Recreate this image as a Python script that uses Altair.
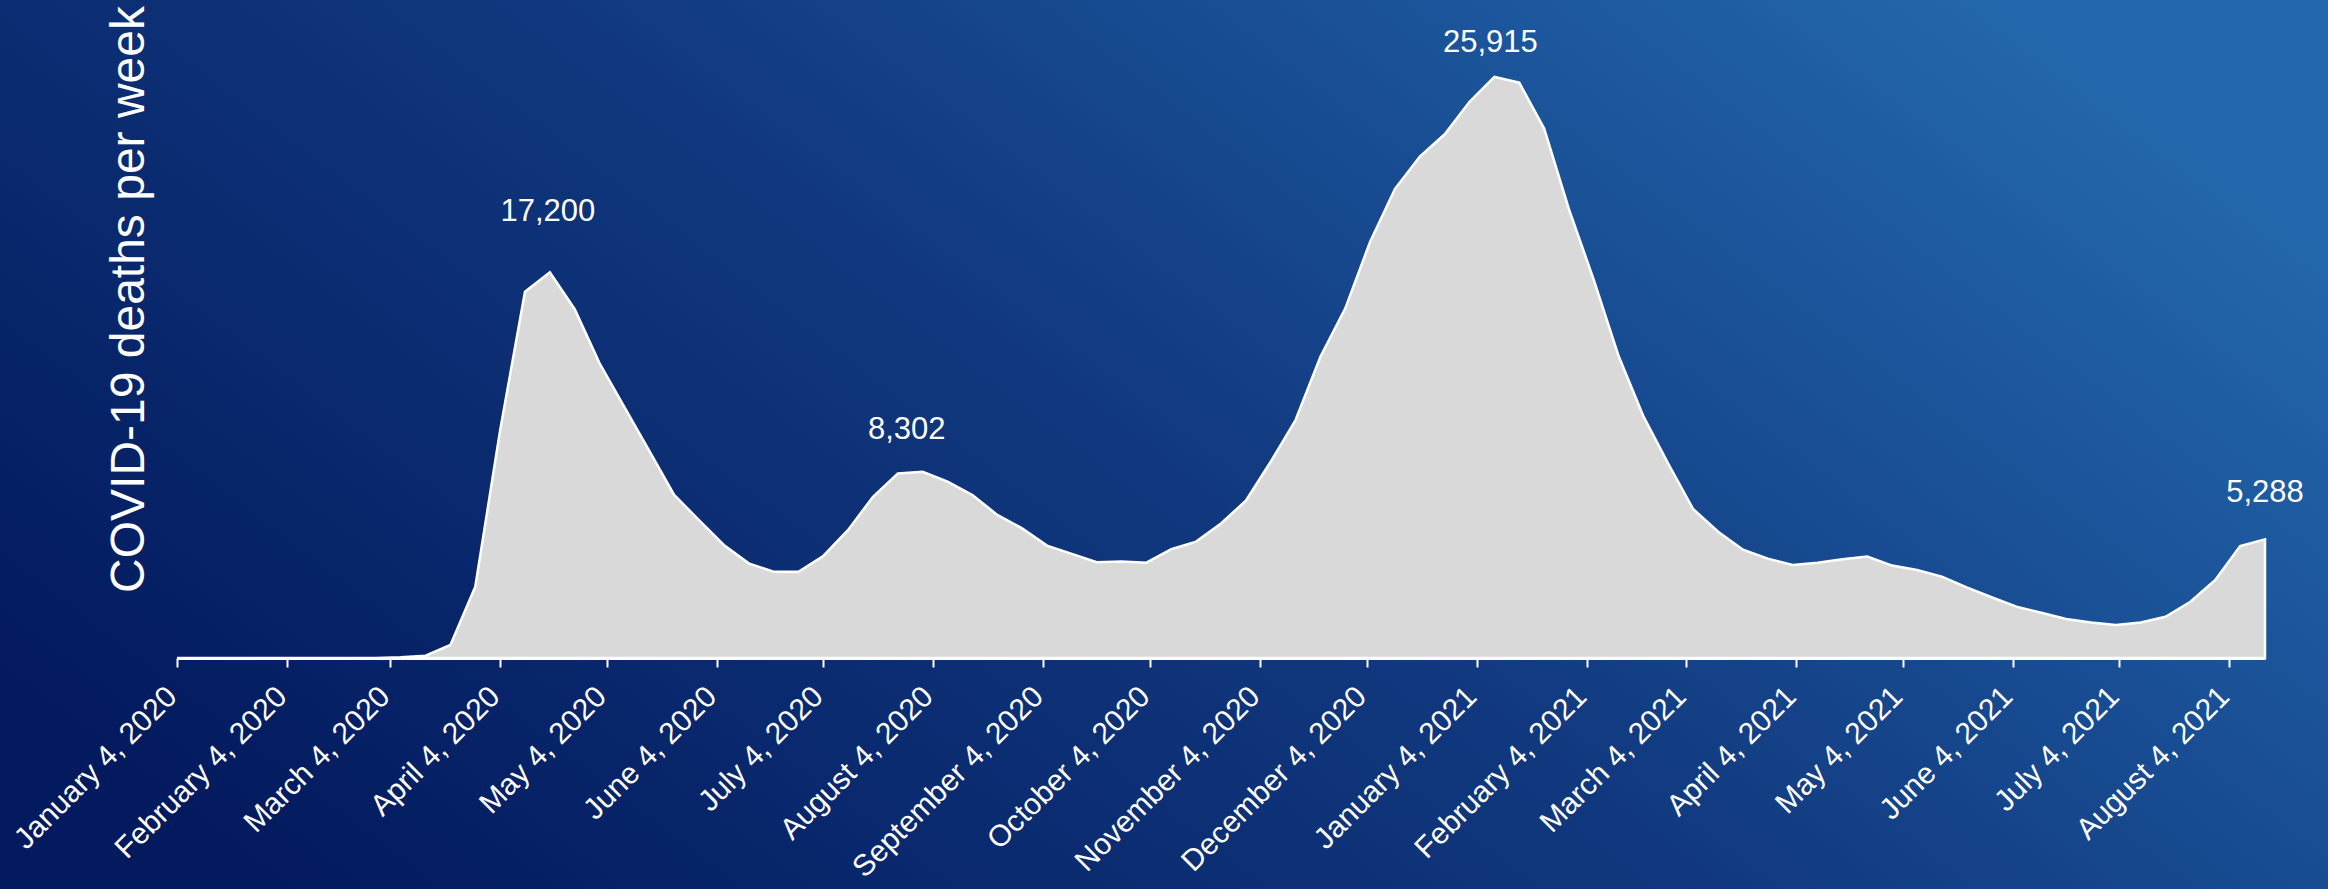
import altair as alt
import pandas as pd

# ---------------- data ----------------
first_week = "2020-01-04"  # weekly points, week ending Saturday
weekly_deaths = [
    0, 0, 0, 0, 0, 0, 0, 0, 5, 35,
    100, 580, 3180, 10160, 16330, 17200, 15550, 13140, 11190, 9230,
    7270, 6150, 5040, 4220, 3850, 3840, 4550, 5710, 7190, 8230,
    8302, 7860, 7270, 6380, 5780, 5010, 4640, 4270, 4300, 4250,
    4850, 5190, 6000, 7010, 8750, 10610, 13430, 15590, 18560, 20920,
    22350, 23350, 24800, 25915, 25650, 23610, 20000, 16850, 13450, 10760,
    8650, 6630, 5630, 4830, 4430, 4150, 4250, 4400, 4520, 4120,
    3920, 3630, 3150, 2710, 2290, 2020, 1740, 1580, 1470, 1580,
    1840, 2510, 3480, 4990, 5288,
]
tick_dates = [
    "2020-01-04", "2020-02-04", "2020-03-04", "2020-04-04", "2020-05-04",
    "2020-06-04", "2020-07-04", "2020-08-04", "2020-09-04", "2020-10-04",
    "2020-11-04", "2020-12-04", "2021-01-04", "2021-02-04", "2021-03-04",
    "2021-04-04", "2021-05-04", "2021-06-04", "2021-07-04", "2021-08-04",
]
ann_dates = ["2020-04-18", "2020-08-01", "2021-01-09", "2021-08-14"]
ann_values = [17200, 8302, 25915, 5288]
y_title = "COVID-19 deaths per week"

# ---------------- styling ----------------
ann_dx = [-2, -16, -4, 0]
ann_dy = [-51, -33, -25, -37]
FONT = "Liberation Sans"
W, H = 2088, 628
PAD = {"left": 177, "top": 30, "right": 63, "bottom": 231}

weeks = pd.date_range(first_week, periods=len(weekly_deaths), freq="7D").strftime("%Y-%m-%d").tolist()
df = pd.DataFrame({"week": weeks, "deaths": weekly_deaths})


def ms(d):
    return int(pd.Timestamp(d, tz="UTC").value // 10**6)


x_scale = alt.Scale(type="utc", domain=[ms(weeks[0]), ms(weeks[-1])])
y_scale = alt.Scale(domain=[0, 28000], nice=False, zero=True)

x_axis = alt.Axis(
    title=None,
    values=[ms(d) for d in tick_dates],
    format="%B %-d, %Y",
    labelAngle=-45,
    labelAlign="right",
    labelBaseline="alphabetic",
    labelColor="white",
    labelFont=FONT,
    labelFontSize=30,
    labelLimit=1000,
    labelOverlap=False,
    labelFlush=False,
    labelPadding=31,
    labelOffset=1,
    domainColor="white",
    domainWidth=3,
    tickColor="white",
    tickWidth=2,
    tickSize=9,
    grid=False,
    zindex=1,
)
y_axis = alt.Axis(
    title=y_title,
    labels=False,
    ticks=False,
    domain=False,
    grid=False,
    titleColor="white",
    titleFont=FONT,
    titleFontSize=48,
    titleFontWeight="normal",
    titleAngle=270,
    titleAlign="center",
    titleBaseline="alphabetic",
    titleX=-34,
    titleY=269,
    titleLimit=2000,
    zindex=1,
)

x_enc = alt.X("week:T", scale=x_scale, axis=x_axis)
y_enc = alt.Y("deaths:Q", scale=y_scale, axis=y_axis)

background = alt.Chart(alt.Data(values=[{"k": 1}])).mark_rect(
    fill={
        "gradient": "linear",
        "stops": [
            {"offset": 0, "color": "#031a5e"},
            {"offset": 0.5, "color": "#11397f"},
            {"offset": 1, "color": "#2368ae"},
        ],
        "x1": 0, "y1": 0.75, "x2": 1, "y2": 0.25,
    },
).encode(
    x=alt.value(-PAD["left"]),
    x2=alt.value(W + PAD["right"]),
    y=alt.value(-PAD["top"]),
    y2=alt.value(H + PAD["bottom"]),
)

area = alt.Chart(df).mark_area(
    fill="#d9d9d9", stroke="white", strokeWidth=2.5, strokeJoin="miter"
).encode(x=x_enc, y=y_enc)

texts = []
for d, v, dx, dy in zip(ann_dates, ann_values, ann_dx, ann_dy):
    texts.append(
        alt.Chart(pd.DataFrame({"week": [d], "deaths": [v]})).mark_text(
            dx=dx, dy=dy, align="center", baseline="alphabetic",
            font=FONT, fontSize=31, color="white",
        ).encode(x=x_enc, y=y_enc, text=alt.Text("deaths:Q", format=","))
    )

chart = alt.layer(background, area, *texts).properties(
    width=W,
    height=H,
    padding=PAD,
    autosize=alt.AutoSizeParams(type="none"),
    background="#0f3277",
).configure_view(stroke=None)

chart.save("out.html", embed_options={"renderer": "svg", "actions": False})
